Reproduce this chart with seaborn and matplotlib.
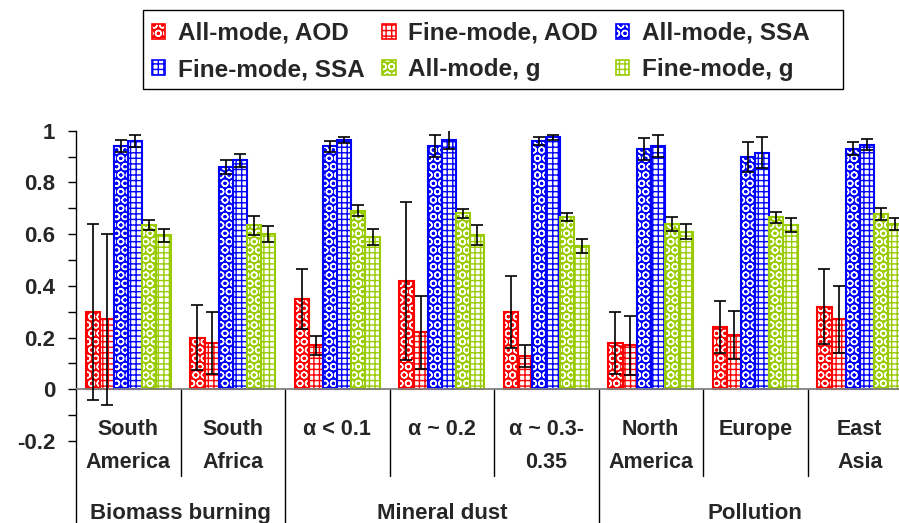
import matplotlib
matplotlib.use("Agg")
import matplotlib.pyplot as plt
from matplotlib.patches import Patch, Rectangle
import pandas as pd
import seaborn as sns

# Regions (x categories) and how their labels are split over two lines
regions = ["South America", "South Africa", "α < 0.1", "α ~ 0.2", "α ~ 0.3-0.35",
           "North America", "Europe", "East Asia"]
region_lines = [("South", "America"), ("South", "Africa"), ("α < 0.1", ""), ("α ~ 0.2", ""),
                ("α ~ 0.3-", "0.35"), ("North", "America"), ("Europe", ""), ("East", "Asia")]
groups = ["Biomass burning", "Mineral dust", "Pollution"]
group_spans = [(0, 1), (2, 4), (5, 7)]

series = ["All-mode, AOD", "Fine-mode, AOD", "All-mode, SSA",
          "Fine-mode, SSA", "All-mode, g", "Fine-mode, g"]
colors = ["#FF0000", "#FF0000", "#0000FF", "#0000FF", "#99CC00", "#99CC00"]

# values
aod_all = [0.30, 0.20, 0.35, 0.42, 0.30, 0.18, 0.24, 0.32]
aod_fine = [0.27, 0.18, 0.17, 0.22, 0.13, 0.17, 0.21, 0.27]
ssa_all = [0.94, 0.86, 0.94, 0.94, 0.96, 0.93, 0.90, 0.93]
ssa_fine = [0.96, 0.885, 0.965, 0.965, 0.975, 0.94, 0.915, 0.945]
g_all = [0.635, 0.635, 0.69, 0.68, 0.665, 0.64, 0.665, 0.677]
g_fine = [0.595, 0.60, 0.59, 0.597, 0.555, 0.61, 0.635, 0.64]

aod_all_err = [0.34, 0.125, 0.115, 0.305, 0.14, 0.12, 0.10, 0.145]
aod_fine_err = [0.33, 0.12, 0.037, 0.14, 0.043, 0.114, 0.094, 0.13]
ssa_all_err = [0.023, 0.028, 0.021, 0.042, 0.015, 0.043, 0.058, 0.025]
ssa_fine_err = [0.022, 0.026, 0.012, 0.037, 0.01, 0.043, 0.061, 0.021]
g_all_err = [0.018, 0.037, 0.021, 0.017, 0.015, 0.027, 0.021, 0.024]
g_fine_err = [0.025, 0.03, 0.031, 0.039, 0.027, 0.03, 0.026, 0.024]

values = [aod_all, aod_fine, ssa_all, ssa_fine, g_all, g_fine]
errors = [aod_all_err, aod_fine_err, ssa_all_err, ssa_fine_err, g_all_err, g_fine_err]

rows = []
for name, vals in zip(series, values):
    for reg, v in zip(regions, vals):
        rows.append({"region": reg, "series": name, "value": v})
df = pd.DataFrame(rows)

sns.set_theme(style="white")
plt.rcParams["font.family"] = ["Liberation Sans", "DejaVu Sans"]
plt.rcParams["font.weight"] = "bold"
plt.rcParams["hatch.linewidth"] = 1.0


def to_y(px):
    # pixel row in the image -> data value (0 at row 389.5, 258.6 px per unit)
    return (389.5 - px) / 258.6


fig = plt.figure(figsize=(8.99, 5.23), dpi=100)
ax = fig.add_axes([76 / 899, 0, 836 / 899, 392.3 / 523])

sns.barplot(data=df, x="region", y="value", hue="series", order=regions, hue_order=series,
            palette=colors, saturation=1, width=0.81, errorbar=None, legend=False, ax=ax)
bar_groups = list(ax.containers)

# patterned fills + error bars
for i, cont in enumerate(bar_groups):
    col = colors[i]
    xs, ys, es = [], [], []
    for bar in cont:
        if series[i].startswith("All"):
            bar.set_facecolor(col)
            bar.set_edgecolor("white")
            bar.set_linewidth(0)
            bar.set_hatch("OO")
            ax.add_patch(Rectangle(bar.get_xy(), bar.get_width(), bar.get_height(),
                                   fill=False, edgecolor=col, lw=1.5, zorder=2.5))
        else:
            bar.set_facecolor("white")
            bar.set_edgecolor(col)
            bar.set_linewidth(1.5)
            bar.set_hatch("+++")
        xc = bar.get_x() + bar.get_width() / 2
        idx = int(round(xc))
        xs.append(xc)
        ys.append(bar.get_height())
        es.append(errors[i][idx])
    ax.errorbar(xs, ys, yerr=es, fmt="none", ecolor="black", elinewidth=1.2,
                capsize=4.4, capthick=1.2, zorder=4)

ax.axhline(0, color="#808080", lw=1.3, zorder=3)

ax.set_xlim(-0.5, 7.5)
ax.set_ylim(-0.517, 1.0)
ax.set_xticks([])
ax.set_xlabel("")
ax.set_ylabel("")
ax.set_yticks([-0.2, 0, 0.2, 0.4, 0.6, 0.8, 1.0])
ax.set_yticklabels(["-0.2", "0", "0.2", "0.4", "0.6", "0.8", "1"])
ax.set_yticks([-0.1, 0.1, 0.3, 0.5, 0.7, 0.9], minor=True)
ax.tick_params(axis="y", which="both", direction="out", length=6, width=1, color="black",
               left=True, labelsize=16, pad=9)
for sp in ["top", "right", "bottom"]:
    ax.spines[sp].set_visible(False)
ax.spines["left"].set_color("black")
ax.spines["left"].set_linewidth(1)

# category labels and separators
for k, (l1, l2) in enumerate(region_lines):
    ax.text(k, to_y(435), l1, ha="center", va="baseline", fontsize=15.5, fontweight="bold")
    if l2:
        ax.text(k, to_y(468), l2, ha="center", va="baseline", fontsize=15.5, fontweight="bold")
for k in range(1, 8):
    bottom = -0.517 if k in (2, 5) else to_y(476)
    ax.plot([k - 0.5, k - 0.5], [0, bottom], color="black", lw=1, clip_on=False)
for name, (a, b) in zip(groups, group_spans):
    ax.text((a + b) / 2, to_y(519), name, ha="center", va="baseline", fontsize=16,
            fontweight="bold")

# legend: 3 columns filled row by row, boxed by a separate frame
handles = []
for name, col in zip(series, colors):
    if name.startswith("All"):
        handles.append((Patch(facecolor=col, edgecolor="white", lw=0, hatch="OO"),
                        Patch(fill=False, edgecolor=col, lw=1.2)))
    else:
        handles.append(Patch(facecolor="white", edgecolor=col, lw=1.2, hatch="+++"))
order = [0, 3, 1, 4, 2, 5]
fig.legend([handles[j] for j in order], [series[j] for j in order], ncol=3,
           loc="upper left", bbox_to_anchor=(143 / 899, 1 - 13 / 523),
           prop={"size": 17.5, "weight": "bold"}, frameon=False,
           handlelength=0.55, handleheight=0.55, handletextpad=0.5, columnspacing=0.75,
           labelspacing=0.55, borderpad=0.37, borderaxespad=0)
fig.patches.append(Rectangle((143 / 899, 1 - 89 / 523), 700 / 899, 79 / 523,
                             transform=fig.transFigure, fill=False, edgecolor="black", lw=1))

fig.savefig("out.png", dpi=100)
